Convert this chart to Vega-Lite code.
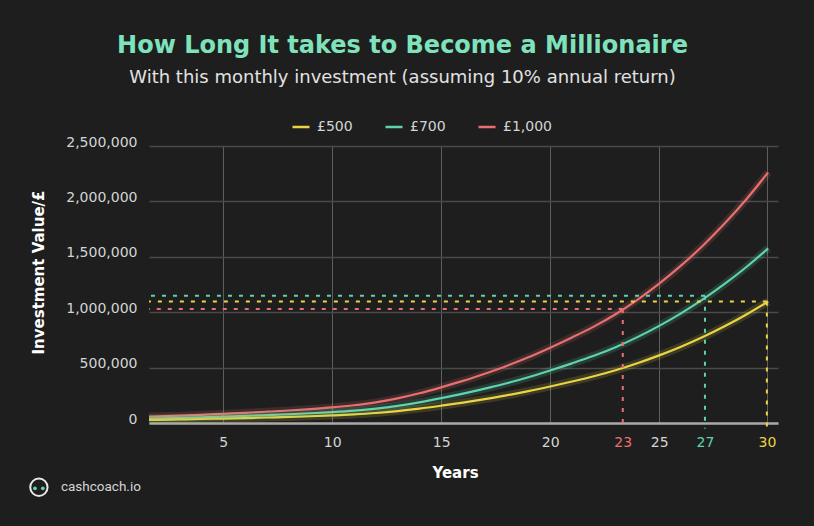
{
  "$schema": "https://vega.github.io/schema/vega-lite/v6.json",
  "width": 629,
  "height": 277,
  "autosize": "none",
  "padding": {"left": 149, "top": 146, "right": 36, "bottom": 103},
  "background": "#1e1e1e",
  "title": {
    "text": "How Long It takes to Become a Millionaire",
    "subtitle": "With this monthly investment (assuming 10% annual return)",
    "anchor": "middle",
    "dx": -61,
    "font": "DejaVu Sans",
    "fontSize": 24,
    "fontWeight": "bold",
    "color": "#7ee3bd",
    "subtitleFont": "DejaVu Sans",
    "subtitleFontSize": 18,
    "subtitleColor": "#e2e2e2",
    "subtitlePadding": 11,
    "offset": 30
  },
  "config": {
    "view": {"stroke": null},
    "font": "DejaVu Sans"
  },
  "datasets": {
    "curves": [
      {"year": 1.6, "series": "£1,000", "value": 58000}, {"year": 2, "series": "£1,000", "value": 60000}, {"year": 3, "series": "£1,000", "value": 66000}, {"year": 4, "series": "£1,000", "value": 74000}, {"year": 5, "series": "£1,000", "value": 83000}, {"year": 6, "series": "£1,000", "value": 92000}, {"year": 7, "series": "£1,000", "value": 102000}, {"year": 8, "series": "£1,000", "value": 113000}, {"year": 9, "series": "£1,000", "value": 126000}, {"year": 10, "series": "£1,000", "value": 141000}, {"year": 11, "series": "£1,000", "value": 160000}, {"year": 12, "series": "£1,000", "value": 186000}, {"year": 13, "series": "£1,000", "value": 222000}, {"year": 14, "series": "£1,000", "value": 268000}, {"year": 15, "series": "£1,000", "value": 322000}, {"year": 16, "series": "£1,000", "value": 380000}, {"year": 17, "series": "£1,000", "value": 445000}, {"year": 18, "series": "£1,000", "value": 515000}, {"year": 19, "series": "£1,000", "value": 593000}, {"year": 20, "series": "£1,000", "value": 680000}, {"year": 21, "series": "£1,000", "value": 772000}, {"year": 22, "series": "£1,000", "value": 870000}, {"year": 23, "series": "£1,000", "value": 982000}, {"year": 24, "series": "£1,000", "value": 1112000}, {"year": 25, "series": "£1,000", "value": 1258000}, {"year": 26, "series": "£1,000", "value": 1420000}, {"year": 27, "series": "£1,000", "value": 1600000}, {"year": 28, "series": "£1,000", "value": 1800000}, {"year": 29, "series": "£1,000", "value": 2020000}, {"year": 30, "series": "£1,000", "value": 2262000},
      {"year": 1.6, "series": "£700", "value": 40400}, {"year": 2, "series": "£700", "value": 41800}, {"year": 3, "series": "£700", "value": 46000}, {"year": 4, "series": "£700", "value": 51600}, {"year": 5, "series": "£700", "value": 57900}, {"year": 6, "series": "£700", "value": 64100}, {"year": 7, "series": "£700", "value": 71100}, {"year": 8, "series": "£700", "value": 78800}, {"year": 9, "series": "£700", "value": 87800}, {"year": 10, "series": "£700", "value": 98300}, {"year": 11, "series": "£700", "value": 111500}, {"year": 12, "series": "£700", "value": 129600}, {"year": 13, "series": "£700", "value": 154700}, {"year": 14, "series": "£700", "value": 186800}, {"year": 15, "series": "£700", "value": 224400}, {"year": 16, "series": "£700", "value": 264900}, {"year": 17, "series": "£700", "value": 310200}, {"year": 18, "series": "£700", "value": 359000}, {"year": 19, "series": "£700", "value": 413300}, {"year": 20, "series": "£700", "value": 474000}, {"year": 21, "series": "£700", "value": 538100}, {"year": 22, "series": "£700", "value": 606400}, {"year": 23, "series": "£700", "value": 684500}, {"year": 24, "series": "£700", "value": 775100}, {"year": 25, "series": "£700", "value": 876800}, {"year": 26, "series": "£700", "value": 989700}, {"year": 27, "series": "£700", "value": 1115200}, {"year": 28, "series": "£700", "value": 1254600}, {"year": 29, "series": "£700", "value": 1407900}, {"year": 30, "series": "£700", "value": 1576600},
      {"year": 1.6, "series": "£500", "value": 28100}, {"year": 2, "series": "£500", "value": 29100}, {"year": 3, "series": "£500", "value": 32000}, {"year": 4, "series": "£500", "value": 35900}, {"year": 5, "series": "£500", "value": 40300}, {"year": 6, "series": "£500", "value": 44600}, {"year": 7, "series": "£500", "value": 49500}, {"year": 8, "series": "£500", "value": 54800}, {"year": 9, "series": "£500", "value": 61100}, {"year": 10, "series": "£500", "value": 68400}, {"year": 11, "series": "£500", "value": 77600}, {"year": 12, "series": "£500", "value": 90200}, {"year": 13, "series": "£500", "value": 107700}, {"year": 14, "series": "£500", "value": 130000}, {"year": 15, "series": "£500", "value": 156200}, {"year": 16, "series": "£500", "value": 184300}, {"year": 17, "series": "£500", "value": 215800}, {"year": 18, "series": "£500", "value": 249800}, {"year": 19, "series": "£500", "value": 287600}, {"year": 20, "series": "£500", "value": 329800}, {"year": 21, "series": "£500", "value": 374400}, {"year": 22, "series": "£500", "value": 422000}, {"year": 23, "series": "£500", "value": 476300}, {"year": 24, "series": "£500", "value": 539300}, {"year": 25, "series": "£500", "value": 610100}, {"year": 26, "series": "£500", "value": 688700}, {"year": 27, "series": "£500", "value": 776000}, {"year": 28, "series": "£500", "value": 873000}, {"year": 29, "series": "£500", "value": 979700}, {"year": 30, "series": "£500", "value": 1097100}
    ],
    "markers": [
      {"series": "£1,000", "year": 23.33, "value": 1030000},
      {"series": "£700", "year": 27.1, "value": 1148000},
      {"series": "£500", "year": 29.94, "value": 1097000}
    ],
    "brand": [{"label": "cashcoach.io"}]
  },
  "layer": [
    {
      "data": {"name": "curves"},
      "mark": {"type": "line", "strokeWidth": 2.2, "interpolate": "monotone"},
      "encoding": {
        "x": {
          "field": "year",
          "type": "quantitative",
          "scale": {"domain": [1.6, 30.45], "nice": false, "zero": false},
          "axis": {
            "title": "Years",
            "titleColor": "#ffffff",
            "titleFont": "DejaVu Sans",
            "titleFontSize": 15,
            "titleFontWeight": "bold",
            "titlePadding": 16,
            "titleX": 306,
            "values": [5, 10, 15, 20, 23.33, 25, 27.1, 29.94],
            "labelExpr": "format(round(datum.value), 'd')",
            "labelColor": {"expr": "datum.value == 23.33 ? '#e8716f' : datum.value == 27.1 ? '#5ed3ae' : datum.value == 29.94 ? '#e9d545' : '#d4d4d4'"},
            "labelFont": "DejaVu Sans",
            "labelFontSize": 14,
            "labelPadding": 12,
            "ticks": false,
            "domain": true,
            "domainColor": "#a8a8a8",
            "domainWidth": 2.5,
            "grid": true,
            "gridColor": "#5e5e5e",
            "gridWidth": 1,
            "gridOpacity": {"expr": "datum.value == 23.33 || datum.value == 27.1 ? 0 : 1"}
          }
        },
        "y": {
          "field": "value",
          "type": "quantitative",
          "scale": {"domain": [0, 2500000], "nice": false},
          "axis": {
            "title": "Investment Value/£",
            "titleColor": "#ffffff",
            "titleFont": "DejaVu Sans",
            "titleFontSize": 15,
            "titleFontWeight": "bold",
            "titlePadding": 19,
            "titleY": 126,
            "values": [0, 500000, 1000000, 1500000, 2000000, 2500000],
            "format": ",d",
            "labelColor": "#d4d4d4",
            "labelFont": "DejaVu Sans",
            "labelFontSize": 14,
            "labelPadding": 12,
            "labelBaseline": "alphabetic",
            "ticks": false,
            "domain": false,
            "grid": true,
            "gridColor": "#4a4a4a",
            "gridWidth": 1.5
          }
        },
        "color": {
          "field": "series",
          "type": "nominal",
          "scale": {"domain": ["£500", "£700", "£1,000"], "range": ["#e9d545", "#5ed3ae", "#e8716f"]},
          "legend": {
            "title": null,
            "orient": "none",
            "legendX": 142,
            "legendY": -29,
            "direction": "horizontal",
            "symbolType": "stroke",
            "symbolStrokeWidth": 2.5,
            "symbolSize": 289,
            "labelOffset": 6,
            "labelColor": "#d4d4d4",
            "labelFont": "DejaVu Sans",
            "labelFontSize": 14,
            "columnPadding": 27,
            "symbolDash": [1, 0],
            "symbolOpacity": 1,
            "encode": {
              "symbols": {
                "update": {
                  "opacity": {"value": 1},
                  "strokeOpacity": {"value": 1},
                  "strokeDash": {"value": [1, 0]}
                }
              }
            }
          }
        }
      }
    },
    {
      "data": {"name": "curves"},
      "mark": {"type": "line", "strokeWidth": 8, "opacity": 0.16, "interpolate": "monotone"},
      "encoding": {
        "x": {"field": "year", "type": "quantitative"},
        "y": {"field": "value", "type": "quantitative"},
        "color": {"field": "series", "type": "nominal"}
      }
    },
    {
      "data": {"name": "markers"},
      "mark": {"type": "rule", "strokeWidth": 2, "strokeDash": [4, 7]},
      "encoding": {
        "x": {"field": "year", "type": "quantitative"},
        "x2": {"datum": 1.6},
        "y": {"field": "value", "type": "quantitative"},
        "color": {"field": "series", "type": "nominal"}
      }
    },
    {
      "data": {"name": "markers"},
      "mark": {"type": "rule", "strokeWidth": 2, "strokeDash": [4, 7]},
      "encoding": {
        "x": {"field": "year", "type": "quantitative"},
        "y": {"field": "value", "type": "quantitative"},
        "y2": {"datum": -50000},
        "color": {"field": "series", "type": "nominal"}
      }
    },
    {
      "data": {"name": "brand"},
      "mark": {"type": "point", "shape": "circle", "size": 300, "filled": false, "stroke": "#e8e8e8", "strokeWidth": 2, "opacity": 1},
      "encoding": {
        "x": {"datum": -3.45, "type": "quantitative"},
        "y": {"datum": -580000, "type": "quantitative"}
      }
    },
    {
      "data": {"name": "brand"},
      "mark": {"type": "point", "shape": "circle", "size": 14, "filled": true, "color": "#5ed3ae", "opacity": 1},
      "encoding": {
        "x": {"datum": -3.63, "type": "quantitative"},
        "y": {"datum": -590000, "type": "quantitative"}
      }
    },
    {
      "data": {"name": "brand"},
      "mark": {"type": "point", "shape": "circle", "size": 14, "filled": true, "color": "#5ed3ae", "opacity": 1},
      "encoding": {
        "x": {"datum": -3.27, "type": "quantitative"},
        "y": {"datum": -590000, "type": "quantitative"}
      }
    },
    {
      "data": {"name": "brand"},
      "mark": {"type": "text", "align": "left", "baseline": "middle", "color": "#d4d4d4", "fontSize": 13.5, "font": "Roboto"},
      "encoding": {
        "x": {"datum": -2.44, "type": "quantitative"},
        "y": {"datum": -580000, "type": "quantitative"},
        "text": {"field": "label"}
      }
    }
  ]
}
